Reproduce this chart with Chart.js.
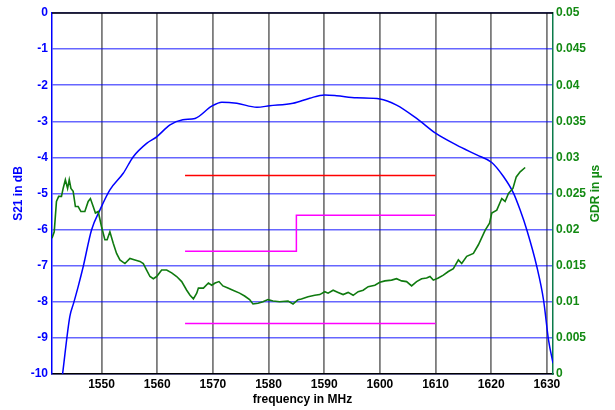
<!DOCTYPE html>
<html>
<head>
<meta charset="utf-8">
<script src="https://cdn.jsdelivr.net/npm/chart.js@4.4.1/dist/chart.umd.min.js"></script>
<style>
  html, body { margin: 0; padding: 0; background: #fff; }
  #wrap { width: 615px; height: 410px; }
</style>
</head>
<body>
<div id="wrap"><canvas id="myChart"></canvas></div>
<script>
// S21 transmission (dB)
const s21Freq = [1543.0, 1544.3, 1545.0, 1545.8, 1546.7, 1548.2, 1549.7, 1551.5, 1553.9, 1555.7,
  1558.1, 1559.9, 1562.3, 1564.6, 1566.8, 1569.8, 1571.6, 1574.3, 1577.9, 1580.2, 1584.4, 1587.4,
  1590.1, 1592.2, 1595.8, 1600.0, 1603.0, 1606.6, 1610.0, 1613.8, 1617.4, 1620.1, 1622.2, 1624.0,
  1625.2, 1626.4, 1628.2, 1629.4, 1630.3, 1631.1];
const s21 = [-10, -8.41, -8.03, -7.58, -7.03, -6.01, -5.46, -4.90, -4.44, -3.98,
  -3.61, -3.43, -3.10, -2.96, -2.92, -2.58, -2.47, -2.50, -2.61, -2.57, -2.50, -2.36,
  -2.27, -2.29, -2.35, -2.38, -2.55, -2.92, -3.33, -3.66, -3.93, -4.14, -4.53, -4.99,
  -5.46, -6.01, -7.03, -7.95, -9.06, -9.70];

// group delay ripple (µs)
const gdrFreq = [1541.1, 1541.5, 1541.9, 1542.3, 1542.8, 1543.1, 1543.5, 1543.9, 1544.2, 1544.5,
  1544.9, 1545.3, 1545.8, 1546.3, 1547.0, 1547.6, 1548.0, 1548.5, 1548.9, 1549.4, 1550.0, 1550.6,
  1551.0, 1551.5, 1552.1, 1552.7, 1553.3, 1554.2, 1555.1, 1556.0, 1556.9, 1557.5, 1558.1, 1558.7,
  1559.3, 1559.9, 1560.8, 1561.7, 1562.6, 1563.5, 1564.4, 1565.3, 1565.9, 1566.5, 1567.1, 1567.4,
  1568.3, 1569.2, 1569.8, 1570.4, 1571.1, 1571.8, 1572.7, 1573.6, 1574.8, 1575.7, 1576.6, 1577.2,
  1578.1, 1579.0, 1579.9, 1580.8, 1582.0, 1583.5, 1584.4, 1585.3, 1585.9, 1587.1, 1588.3, 1589.2,
  1590.1, 1590.7, 1591.6, 1592.5, 1593.4, 1594.3, 1595.2, 1596.1, 1597.0, 1597.9, 1599.1, 1600.0,
  1600.9, 1602.1, 1603.0, 1603.9, 1604.8, 1605.7, 1606.6, 1607.5, 1608.4, 1609.0, 1609.6, 1610.5,
  1611.4, 1612.3, 1613.2, 1614.1, 1614.7, 1615.6, 1616.8, 1617.7, 1618.9, 1619.7, 1620.1, 1621.0,
  1621.9, 1622.5, 1623.1, 1623.9, 1624.5, 1625.2, 1626.1];
const gdr = [0.0188, 0.0197, 0.0239, 0.0246, 0.0246, 0.0257, 0.0269, 0.0257, 0.0269, 0.0257,
  0.0253, 0.0232, 0.0232, 0.0225, 0.0225, 0.0239, 0.0243, 0.0232, 0.0223, 0.0225, 0.0204, 0.0186,
  0.0186, 0.0197, 0.0181, 0.0167, 0.0158, 0.0153, 0.0160, 0.0158, 0.0156, 0.0153, 0.0144, 0.0135,
  0.0132, 0.0135, 0.0144, 0.0144, 0.0140, 0.0135, 0.0128, 0.0116, 0.0109, 0.0104, 0.0112, 0.0119,
  0.0119, 0.0126, 0.0123, 0.0126, 0.0128, 0.0122, 0.0119, 0.0116, 0.0112, 0.0108, 0.0103, 0.0097,
  0.0098, 0.0100, 0.0103, 0.0101, 0.0100, 0.0101, 0.0097, 0.0103, 0.0104, 0.0107, 0.0109, 0.0110,
  0.0114, 0.0112, 0.0116, 0.0113, 0.0110, 0.0113, 0.0109, 0.0114, 0.0116, 0.0121, 0.0123, 0.0127,
  0.0129, 0.0130, 0.0132, 0.0129, 0.0128, 0.0122, 0.0128, 0.0132, 0.0133, 0.0135, 0.0130, 0.0133,
  0.0137, 0.0142, 0.0146, 0.0158, 0.0153, 0.0163, 0.0167, 0.0179, 0.0199, 0.0209, 0.0223, 0.0227,
  0.0243, 0.0239, 0.0250, 0.0257, 0.0273, 0.0280, 0.0286];

// spec masks
const s21MaskFreq = [1565, 1610];
const s21Mask = [-4.5, -4.5];
const gdrUpperFreq = [1565, 1585, 1585, 1610];
const gdrUpper = [0.017, 0.017, 0.022, 0.022];
const gdrLowerFreq = [1565, 1610];
const gdrLower = [0.007, 0.007];

const freqTicks = [1550, 1560, 1570, 1580, 1590, 1600, 1610, 1620, 1630];
const s21Ticks = [0, -1, -2, -3, -4, -5, -6, -7, -8, -9, -10];
const gdrTicks = ['0', '0.005', '0.01', '0.015', '0.02', '0.025', '0.03', '0.035', '0.04', '0.045', '0.05'];

const BLUE = '#0000ff';
const GREEN = '#138a13';
const LINE_GREEN = '#0f7a0f';
const FONT = { family: 'Liberation Sans, Arial, sans-serif', size: 12, weight: 'bold' };

function pts(xs, ys) {
  return xs.map((x, i) => ({ x: x, y: ys[i] }));
}

const frame = {
  id: 'frame',
  afterDraw(chart) {
    const ctx = chart.ctx;
    const a = chart.chartArea;
    ctx.save();
    ctx.strokeStyle = '#000';
    ctx.lineWidth = 1.5;
    ctx.beginPath();
    ctx.moveTo(a.left, a.top);
    ctx.lineTo(a.right, a.top);
    ctx.stroke();
    // right axis title, reading bottom to top
    ctx.fillStyle = GREEN;
    ctx.font = 'bold 12px Liberation Sans, Arial, sans-serif';
    ctx.textAlign = 'center';
    ctx.textBaseline = 'middle';
    ctx.translate(a.right + 43, (a.top + a.bottom) / 2);
    ctx.rotate(-Math.PI / 2);
    ctx.fillText('GDR in \u00b5s', 0, 0);
    ctx.restore();
  }
};

const ctx = document.getElementById('myChart');
new Chart(ctx, {
  type: 'scatter',
  data: {
    datasets: [
      {
        label: 'GDR',
        data: pts(gdrFreq, gdr),
        yAxisID: 'y2',
        showLine: true,
        borderColor: LINE_GREEN,
        borderWidth: 1.6,
        pointRadius: 0,
        tension: 0,
        order: 0
      },
      {
        label: 'S21',
        data: pts(s21Freq, s21),
        yAxisID: 'y',
        showLine: true,
        borderColor: BLUE,
        borderWidth: 1.5,
        pointRadius: 0,
        cubicInterpolationMode: 'monotone',
        order: 1
      },
      {
        label: 'S21 mask',
        data: pts(s21MaskFreq, s21Mask),
        yAxisID: 'y',
        showLine: true,
        borderColor: '#ff0000',
        borderWidth: 1.5,
        pointRadius: 0,
        order: 2
      },
      {
        label: 'GDR upper',
        data: pts(gdrUpperFreq, gdrUpper),
        yAxisID: 'y2',
        showLine: true,
        borderColor: '#ff00ff',
        borderWidth: 1.5,
        pointRadius: 0,
        order: 2
      },
      {
        label: 'GDR lower',
        data: pts(gdrLowerFreq, gdrLower),
        yAxisID: 'y2',
        showLine: true,
        borderColor: '#ff00ff',
        borderWidth: 1.5,
        pointRadius: 0,
        order: 2
      }
    ]
  },
  options: {
    responsive: true,
    maintainAspectRatio: false,
    animation: false,
    layout: { padding: { top: 13, left: 0, right: 0, bottom: 0 } },
    scales: {
      x: {
        type: 'linear',
        min: 1541.1,
        max: 1631.1,
        afterBuildTicks: (s) => { s.ticks = freqTicks.map(v => ({ value: v })); },
        afterFit: (s) => { s.height = 36; },
        ticks: { color: '#000', font: FONT, padding: 3, maxRotation: 0, callback: (v) => String(v) },
        grid: { color: '#7c7c7c', lineWidth: 1.8, drawTicks: false },
        border: { color: '#000', width: 1.5 },
        title: {
          display: true,
          text: 'frequency in MHz',
          color: '#000',
          font: FONT,
          padding: { top: 0, bottom: 3 }
        }
      },
      y: {
        position: 'left',
        min: -10,
        max: 0,
        afterBuildTicks: (s) => { s.ticks = s21Ticks.map(v => ({ value: v })); },
        afterFit: (s) => { s.width = 52; },
        ticks: { color: BLUE, font: FONT, padding: 4 },
        grid: { color: 'rgba(0, 0, 255, 0.6)', lineWidth: 1.5, drawTicks: false },
        border: { color: BLUE, width: 1.5 },
        title: {
          display: true,
          text: 'S21 in dB',
          color: BLUE,
          font: FONT,
          padding: { top: 11, bottom: 0 }
        }
      },
      y2: {
        position: 'right',
        min: 0,
        max: 0.05,
        afterBuildTicks: (s) => { s.ticks = gdrTicks.map(v => ({ value: parseFloat(v) })); },
        afterFit: (s) => { s.width = 62; },
        ticks: {
          color: GREEN,
          font: FONT,
          padding: 3,
          callback: (v, i) => gdrTicks[i]
        },
        grid: { display: false, drawTicks: false },
        border: { color: '#0b7a4a', width: 1.5 }
      }
    },
    plugins: {
      legend: { display: false },
      tooltip: { enabled: false }
    }
  },
  plugins: [frame]
});
</script>
</body>
</html>
